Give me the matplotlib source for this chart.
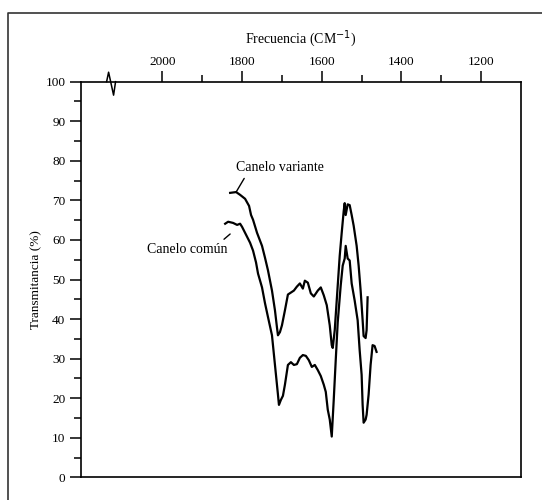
import matplotlib
matplotlib.use('Agg')
import matplotlib.pyplot as plt
from matplotlib.lines import Line2D
import numpy as np

plt.rcParams['font.family'] = ['Liberation Serif', 'DejaVu Serif']

# ----------------------------- Data ----------------------------- #
# Canelo variante: frequency (cm-1), transmittance (%)
freq_var = [1830, 1815, 1805, 1792.5, 1782.5, 1777.5, 1772.5, 1762.5, 1750, 1742.5,
            1735, 1725, 1717.5, 1712.5, 1710, 1705, 1700, 1692.5, 1685, 1677.5,
            1670, 1662.5, 1655, 1647.5, 1642.5, 1635, 1627.5, 1620, 1610, 1602.5,
            1595, 1587.5, 1580, 1575, 1572.5, 1567.5, 1562.5, 1555, 1550, 1545,
            1542.5, 1540, 1535, 1530, 1525, 1520, 1512.5, 1507.5, 1502.5, 1500,
            1497.5, 1495, 1490, 1487.5, 1485]
trans_var = [71.9, 72.1, 71.4, 70.4, 68.6, 66.3, 65.1, 61.8, 58.5, 55.5,
             52.3, 47.2, 42.2, 37.9, 35.9, 36.7, 38.4, 42.2, 46.2, 46.7,
             47.2, 48.2, 49.0, 47.7, 49.7, 49.2, 46.5, 45.7, 47.2, 48.0,
             46.0, 43.5, 38.4, 33.4, 32.7, 37.2, 44.7, 56.0, 61.8, 67.3,
             69.3, 66.3, 69.0, 68.8, 66.3, 63.6, 58.5, 53.5, 47.2, 43.5,
             39.7, 35.7, 35.2, 37.2, 45.5]

# Canelo común
freq_com = [1842.5, 1835, 1822.5, 1812.5, 1805, 1800, 1792.5, 1780, 1772.5, 1765,
            1760, 1750, 1742.5, 1735, 1725, 1720, 1715, 1710, 1707.5, 1702.5,
            1697.5, 1692.5, 1685, 1677.5, 1670, 1662.5, 1655, 1647.5, 1640, 1632.5,
            1625, 1617.5, 1610, 1602.5, 1595, 1590, 1585, 1580, 1575, 1570,
            1565, 1560, 1552.5, 1547.5, 1542.5, 1540, 1535, 1530, 1525, 1517.5,
            1510, 1505, 1500, 1497.5, 1495, 1490, 1487.5, 1482.5, 1477.5, 1472.5,
            1467.5, 1462.5]
trans_com = [64.1, 64.6, 64.3, 63.8, 64.1, 63.3, 61.8, 59.3, 57.3, 54.3,
             51.5, 48.0, 44.0, 40.5, 35.9, 30.9, 25.9, 20.9, 18.3, 19.6,
             20.6, 23.4, 28.4, 29.1, 28.4, 28.6, 30.2, 30.9, 30.7, 29.6,
             27.9, 28.4, 27.1, 25.6, 23.4, 21.6, 17.1, 14.6, 10.3, 19.6,
             29.6, 39.2, 48.5, 53.5, 55.3, 58.5, 55.3, 54.8, 49.0, 44.7,
             39.7, 32.2, 25.9, 18.3, 13.8, 14.6, 15.8, 20.9, 28.4, 33.4,
             33.2, 31.7]

xticks_major = [2000, 1800, 1600, 1400, 1200]
xticks_minor = [1900, 1700, 1500, 1300]
yticks_major = list(range(0, 101, 10))
yticks_minor = list(range(5, 100, 10))

# ----------------------------------- Figure ----------------------------------- #
fig = plt.figure(figsize=(5.42, 5.00), dpi=100)
ax = fig.add_axes([0.1489, 0.0454, 0.8124, 0.7912])

ax.plot(freq_var, trans_var, color='black', lw=1.6)
ax.plot(freq_com, trans_com, color='black', lw=1.6)

ax.set_xlim(2205, 1100)
ax.set_ylim(0, 100)

# top frequency axis
ax.xaxis.tick_top()
ax.xaxis.set_label_position('top')
ax.set_xticks(xticks_major)
ax.set_xticks(xticks_minor, minor=True)
ax.set_yticks(yticks_major)
ax.set_yticks(yticks_minor, minor=True)
ax.tick_params(axis='both', which='major', direction='out', length=8, width=1.1,
               labelsize=9.5, colors='black')
ax.tick_params(axis='both', which='minor', direction='out', length=5, width=1.1)
ax.tick_params(axis='x', pad=2)
ax.tick_params(axis='y', pad=3)
for s in ax.spines.values():
    s.set_linewidth(1.2)

ax.set_xlabel('Frecuencia (CM$^{-1}$)', fontsize=10, labelpad=9)
ax.set_ylabel('Transmitancia (%)', fontsize=9.5, labelpad=2)

# axis break on the top spine
ax.plot([2140, 2135, 2122.5, 2117.5], [100, 102.4, 96.6, 100], color='black', lw=1.1,
        clip_on=False)

# annotations
ax.annotate('Canelo variante', xy=(1815, 72.1), xytext=(1705, 78.2),
            fontsize=10, ha='center', va='center',
            arrowprops=dict(arrowstyle='-', color='black', lw=1.0,
                            shrinkA=1, shrinkB=0, relpos=(0.12, 0.0)))
ax.annotate('Canelo común', xy=(1830, 61.5), xytext=(1937, 57.6),
            fontsize=10, ha='center', va='center',
            arrowprops=dict(arrowstyle='-', color='black', lw=1.0,
                            shrinkA=1, shrinkB=0, relpos=(0.9, 1.0)))

# outer frame of the scanned figure
fig.add_artist(Line2D([8 / 542, 8 / 542, 1.0], [0.0, 1 - 13 / 500, 1 - 13 / 500],
                      transform=fig.transFigure, color='#333333', lw=1.2))

fig.savefig('out.png', dpi=100)
